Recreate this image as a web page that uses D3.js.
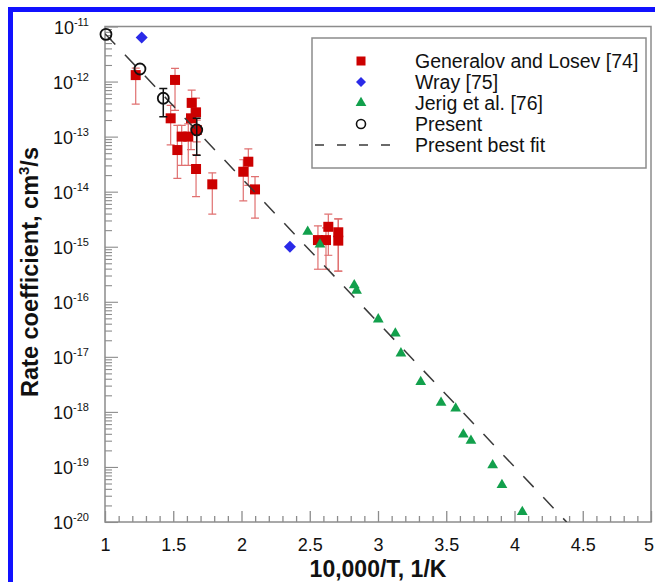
<!DOCTYPE html>
<html>
<head>
<meta charset="utf-8">
<script src="https://cdn.jsdelivr.net/npm/d3@7"></script>
<style>
  body { margin: 0; background: #fff; }
  svg { display: block; }
  text { font-family: Arial, "Liberation Sans", Helvetica, sans-serif; }
</style>
</head>
<body>
<svg id="chart" width="655" height="582"></svg>
<script>
// ---- Data: rate coefficient vs 10,000/T ----

// Generalov and Losev [74]: value with lower / upper error limits
const glX  = [1.225, 1.513, 1.481, 1.530, 1.562, 1.610, 1.635, 1.667, 1.630, 1.667, 1.786, 2.013, 2.050, 2.099, 2.560, 2.619, 2.636, 2.709, 2.709, 1.672];
const glK  = [1.31e-12, 1.07e-12, 2.15e-13, 5.7e-14, 1.0e-13, 1.0e-13, 4.1e-13, 2.76e-13, 2.15e-13, 2.58e-14, 1.36e-14, 2.3e-14, 3.5e-14, 1.1e-14, 1.32e-15, 1.32e-15, 2.3e-15, 1.83e-15, 1.29e-15, 1.32e-13];
const glLo = [3.9e-13, 3.0e-13, 7.1e-14, 1.75e-14, 3.0e-14, 3.0e-14, 2.5e-13, 1.3e-13, 5.8e-14, 8.1e-15, 3.9e-15, 6.8e-15, 1.3e-14, 3.3e-15, 3.9e-16, 3.9e-16, 7.0e-16, 3.6e-16, 3.6e-16, 8.0e-14];
const glHi = [1.75e-12, 1.74e-12, 3.7e-13, 1.6e-13, 1.6e-13, 1.7e-13, 7.0e-13, 5.0e-13, 3.5e-13, 4.7e-14, 2.2e-14, 3.8e-14, 6.0e-14, 1.87e-14, 2.4e-15, 2.2e-15, 3.9e-15, 3.2e-15, 3.2e-15, 2.0e-13];

// Wray [75]
const wrayX = [1.269, 2.355];
const wrayK = [6.3e-12, 1.0e-15];

// Jerig et al. [76]
const jerigX = [2.485, 2.575, 2.826, 2.843, 3.002, 3.127, 3.168, 3.313, 3.462, 3.569, 3.625, 3.681, 3.840, 3.908, 4.057];
const jerigK = [1.87e-15, 1.1e-15, 2.0e-16, 1.6e-16, 4.8e-17, 2.67e-17, 1.16e-17, 3.5e-18, 1.47e-18, 1.16e-18, 3.9e-19, 3.0e-19, 1.08e-19, 4.7e-20, 1.53e-20];

// Present results (error limits where shown)
const presX  = [1.007, 1.256, 1.427, 1.672];
const presK  = [7.2e-12, 1.69e-12, 4.97e-13, 1.32e-13];
const presLo = [null, null, 2.3e-13, 4.6e-14];
const presHi = [null, null, 7.5e-13, 2.15e-13];

// Present best fit: log10(k) = fitA + fitB * (10,000/T)
const fitA = -8.507;
const fitB = -2.623;
const fitRange = [1.0, 4.382];

// Axis ticks
const xTicks = [1, 1.5, 2, 2.5, 3, 3.5, 4, 4.5, 5];
const xTickLabels = ["1", "1.5", "2", "2.5", "3", "3.5", "4", "4.5", "5"];
const yExponents = [-11, -12, -13, -14, -15, -16, -17, -18, -19, -20];

const legendLabels = ["Generalov and Losev [74]", "Wray [75]", "Jerig et al. [76]", "Present", "Present best fit"];

// ---- Layout ----
const svg = d3.select("#chart");
const pLeft = 105, pRight = 651, pTop = 26.5, pBottom = 522;
const axisColor = "#8c8c8c";
const red = "#cc0000", redBar = "#e07070", blue = "#2a2ae8", green = "#12a04c";

const x = d3.scaleLinear().domain([1, 5]).range([pLeft, pRight]);
const y = d3.scaleLog().domain([1e-20, 1e-11]).range([pBottom, pTop]);

// Frame border (blue bands at top and left)
svg.append("rect").attr("x", 8).attr("y", 7).attr("width", 647).attr("height", 5).attr("fill", "#1111ff");
svg.append("rect").attr("x", 8).attr("y", 7).attr("width", 5).attr("height", 575).attr("fill", "#1111ff");

svg.append("defs").append("clipPath").attr("id", "plot-clip")
  .append("rect").attr("x", pLeft).attr("y", pTop).attr("width", pRight - pLeft).attr("height", pBottom - pTop);

// Plot box
svg.append("rect")
  .attr("x", pLeft).attr("y", pTop).attr("width", pRight - pLeft).attr("height", pBottom - pTop)
  .attr("fill", "none").attr("stroke", axisColor).attr("stroke-width", 1.5);

// ---- X axis ----
const xMinor = d3.range(10, 51).map(d => d / 10).filter(d => !xTicks.some(t => Math.abs(t - d) < 1e-9));
const xMinorAxis = d3.axisBottom(x).tickValues(xMinor).tickSize(-6).tickFormat("");
const xMajorAxis = d3.axisBottom(x).tickValues(xTicks).tickSize(-11)
  .tickFormat((d, i) => xTickLabels[i]).tickPadding(0);

const gxMinor = svg.append("g").attr("transform", `translate(0,${pBottom})`).call(xMinorAxis);
const gxMajor = svg.append("g").attr("transform", `translate(0,${pBottom})`).call(xMajorAxis);
[gxMinor, gxMajor].forEach(g => {
  g.select(".domain").remove();
  g.selectAll(".tick line").attr("stroke", axisColor).attr("stroke-width", 1.3);
});
gxMajor.selectAll(".tick text")
  .attr("y", 29).attr("dy", null)
  .attr("font-size", 18).attr("fill", "#111")
  .attr("dx", (d, i, n) => i === n.length - 1 ? -2.5 : 0);

// ---- Y axis (log) ----
const yMajor = yExponents.map(e => Math.pow(10, e));
const yMinor = [];
yExponents.slice(1).forEach(e => {
  for (let m = 2; m <= 9; m++) yMinor.push(m * Math.pow(10, e));
});
const yMinorAxis = d3.axisLeft(y).tickValues(yMinor).tickSize(-7).tickFormat("");
const yMajorAxis = d3.axisLeft(y).tickValues(yMajor).tickSize(-13).tickFormat("");

const gyMinor = svg.append("g").attr("transform", `translate(${pLeft},0)`).call(yMinorAxis);
const gyMajor = svg.append("g").attr("transform", `translate(${pLeft},0)`).call(yMajorAxis);
[gyMinor, gyMajor].forEach(g => {
  g.select(".domain").remove();
  g.selectAll(".tick line").attr("stroke", axisColor).attr("stroke-width", 1.1);
});

// Power-of-ten labels with superscript exponents
const yLab = svg.append("g");
yExponents.forEach(e => {
  const t = yLab.append("text")
    .attr("x", 89).attr("y", y(Math.pow(10, e)) + 7)
    .attr("text-anchor", "end").attr("fill", "#111");
  t.append("tspan").attr("font-size", 18).text("10");
  t.append("tspan").attr("font-size", 11).attr("dy", -8).text(String(e));
});

// Axis titles
svg.append("text")
  .attr("x", 378).attr("y", 577)
  .attr("text-anchor", "middle").attr("font-size", 23).attr("font-weight", "bold").attr("fill", "#111")
  .text("10,000/T, 1/K");

const yTitle = svg.append("text")
  .attr("transform", "translate(38,272) rotate(-90)")
  .attr("text-anchor", "middle").attr("font-size", 23.5).attr("font-weight", "bold").attr("fill", "#111");
yTitle.append("tspan").text("Rate coefficient, cm");
yTitle.append("tspan").attr("font-size", 15).attr("dy", -9).text("3");
yTitle.append("tspan").attr("dy", 9).text("/s");

// ---- Marks ----
const plot = svg.append("g").attr("clip-path", "url(#plot-clip)");
const cap = 4;

// Generalov and Losev error bars
const glData = glX.map((v, i) => ({ v, k: glK[i], lo: glLo[i], hi: glHi[i] }));
const glBars = plot.append("g").attr("stroke", redBar).attr("stroke-width", 1.2).attr("fill", "none");
glData.forEach(d => {
  glBars.append("line").attr("x1", x(d.v)).attr("x2", x(d.v)).attr("y1", y(d.lo)).attr("y2", y(d.hi));
  glBars.append("line").attr("x1", x(d.v) - cap).attr("x2", x(d.v) + cap).attr("y1", y(d.lo)).attr("y2", y(d.lo));
  glBars.append("line").attr("x1", x(d.v) - cap).attr("x2", x(d.v) + cap).attr("y1", y(d.hi)).attr("y2", y(d.hi));
});

const sq = 10;
plot.append("g").selectAll("rect").data(glData).join("rect")
  .attr("x", d => x(d.v) - sq / 2).attr("y", d => y(d.k) - sq / 2)
  .attr("width", sq).attr("height", sq).attr("fill", red);

// Wray diamonds
const diamondPath = "M0,-6L6,0L0,6L-6,0Z";
plot.append("g").selectAll("path").data(wrayX.map((v, i) => ({ v, k: wrayK[i] }))).join("path")
  .attr("d", diamondPath)
  .attr("transform", d => `translate(${x(d.v)},${y(d.k)})`)
  .attr("fill", blue);

// Jerig triangles
const tri = d3.symbol().type(d3.symbolTriangle).size(50);
plot.append("g").selectAll("path").data(jerigX.map((v, i) => ({ v, k: jerigK[i] }))).join("path")
  .attr("d", tri)
  .attr("transform", d => `translate(${x(d.v)},${y(d.k)})`)
  .attr("fill", green);

// Best-fit line
const fitPts = fitRange.map(v => ({ v, k: Math.pow(10, fitA + fitB * v) }));
plot.append("path")
  .datum(fitPts)
  .attr("d", d3.line().x(d => x(d.v)).y(d => y(d.k)))
  .attr("fill", "none").attr("stroke", "#3a3a3a").attr("stroke-width", 1.5)
  .attr("stroke-dasharray", "15,14");

// Present results
const presData = presX.map((v, i) => ({ v, k: presK[i], lo: presLo[i], hi: presHi[i] }));
const pBars = plot.append("g").attr("stroke", "#111").attr("stroke-width", 1.5);
presData.filter(d => d.lo !== null).forEach(d => {
  pBars.append("line").attr("x1", x(d.v)).attr("x2", x(d.v)).attr("y1", y(d.lo)).attr("y2", y(d.hi));
  pBars.append("line").attr("x1", x(d.v) - cap).attr("x2", x(d.v) + cap).attr("y1", y(d.lo)).attr("y2", y(d.lo));
  pBars.append("line").attr("x1", x(d.v) - cap).attr("x2", x(d.v) + cap).attr("y1", y(d.hi)).attr("y2", y(d.hi));
});
svg.append("g").selectAll("circle").data(presData).join("circle")
  .attr("cx", d => x(d.v)).attr("cy", d => y(d.k)).attr("r", 5.5)
  .attr("fill", "none").attr("stroke", "#111").attr("stroke-width", 1.8);

// ---- Legend ----
const lg = svg.append("g");
lg.append("rect").attr("x", 312).attr("y", 38).attr("width", 334).attr("height", 130)
  .attr("fill", "#fff").attr("stroke", axisColor).attr("stroke-width", 1.5);
const rowY = i => 61 + i * 21;
const symX = 361;
lg.append("rect").attr("x", symX - 4.5).attr("y", rowY(0) - 4.5).attr("width", 9).attr("height", 9).attr("fill", red);
lg.append("path").attr("d", "M0,-5L5,0L0,5L-5,0Z").attr("transform", `translate(${symX},${rowY(1)})`).attr("fill", blue);
lg.append("path").attr("d", tri).attr("transform", `translate(${symX},${rowY(2)})`).attr("fill", green);
lg.append("circle").attr("cx", symX).attr("cy", rowY(3)).attr("r", 4.5)
  .attr("fill", "none").attr("stroke", "#111").attr("stroke-width", 1.6);
lg.append("line").attr("x1", 315).attr("x2", 393).attr("y1", rowY(4)).attr("y2", rowY(4))
  .attr("stroke", "#3a3a3a").attr("stroke-width", 1.5).attr("stroke-dasharray", "9,13");
legendLabels.forEach((s, i) => {
  lg.append("text").attr("x", 415).attr("y", rowY(i) + 6.5)
    .attr("font-size", 19.5).attr("fill", "#111").text(s);
});
</script>
</body>
</html>
